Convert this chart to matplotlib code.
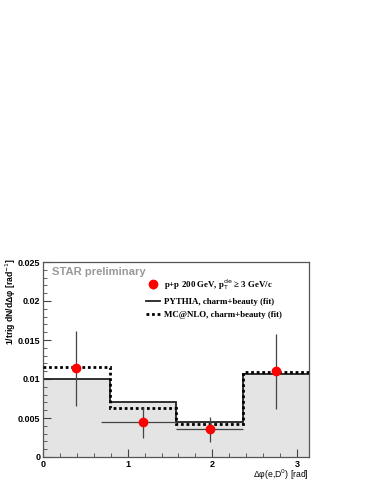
import matplotlib
matplotlib.use("Agg")
import matplotlib.pyplot as plt
import numpy as np
from matplotlib.ticker import MultipleLocator

# Data
bin_edges = [0.0, np.pi/4, np.pi/2, 3*np.pi/4, np.pi]
pythia = [0.0100, 0.0071, 0.0045, 0.0106]
mcnlo = [0.0115, 0.0063, 0.0042, 0.0109]
data_x = [0.39, 1.18, 1.97, 2.75]
data_y = [0.01137, 0.00445, 0.00355, 0.0110]
data_yerr = [0.0048, 0.0020, 0.0016, 0.0048]
data_xerr_lo = [0.0, 0.49, 0.40, 0.0]
data_xerr_hi = [0.0, 0.38, 0.39, 0.0]

plt.rcParams['font.family'] = ['Liberation Sans', 'DejaVu Sans']

fig = plt.figure(figsize=(3.74, 4.84), dpi=100)
ax = fig.add_axes([43/374, 27/484, 266/374, 195/484])

ax.stairs(pythia, bin_edges, fill=True, color='#e4e4e4', zorder=1)
ax.stairs(pythia, bin_edges, baseline=None, color='#222222', linewidth=1.3, zorder=2,
          label='PYTHIA, charm+beauty (fit)')
ax.stairs(mcnlo, bin_edges, baseline=None, color='black', linewidth=2.0,
          linestyle=(0, (1, 1)), zorder=3, label='MC@NLO, charm+beauty (fit)')
ax.errorbar(data_x, data_y, yerr=data_yerr, xerr=[data_xerr_lo, data_xerr_hi],
            fmt='o', color='red', markersize=6, ecolor='#444444', elinewidth=0.9,
            capsize=0, zorder=4, label=r'p+p 200 GeV, p$_\mathrm{T}^\mathrm{de}$ ≥ 3 GeV/c')

ax.set_xlim(0, np.pi)
ax.set_ylim(0, 0.025)
ax.xaxis.set_major_locator(MultipleLocator(1))
ax.xaxis.set_minor_locator(MultipleLocator(0.2))
ax.yaxis.set_major_locator(MultipleLocator(0.005))
ax.yaxis.set_minor_locator(MultipleLocator(0.001))
ax.tick_params(which='both', direction='in', top=False, right=False, color='#444444',
               labelsize=6.5, pad=2)
ax.tick_params(which='major', length=6, width=0.8)
ax.tick_params(which='minor', length=3, width=0.6)
ax.yaxis.set_major_formatter(matplotlib.ticker.FuncFormatter(lambda v, p: f"{v:g}"))
for lab in ax.get_xticklabels() + ax.get_yticklabels():
    lab.set_fontweight('bold')
for s in ax.spines.values():
    s.set_color('#555555')
    s.set_linewidth(0.9)

ax.text(0.035, 0.95, 'STAR preliminary', transform=ax.transAxes, color='#999999',
        fontsize=8.1, fontweight='bold', va='center', ha='left')

ax.set_xlabel('Δφ(e,D$^{0}$) [rad]', fontsize=6.2, ha='right', va='center')
ax.xaxis.set_label_coords(1.0, -0.092)
ax.set_ylabel('1/trig dN/dΔφ [rad$^{-1}$]', fontsize=6.2, fontweight='bold',
              ha='right', va='center')
ax.yaxis.set_label_coords(-0.12, 1.02)

handles, labels = ax.get_legend_handles_labels()
order = [2, 0, 1]
leg = ax.legend([handles[i] for i in order], [labels[i] for i in order],
                loc='upper left', bbox_to_anchor=(0.37, 0.945), frameon=False,
                prop={'family': 'Liberation Serif', 'weight': 'bold', 'size': 6.4},
                handlelength=1.6, handletextpad=0.4, labelspacing=0.6, borderpad=0)

fig.savefig('out.png', dpi=100)
